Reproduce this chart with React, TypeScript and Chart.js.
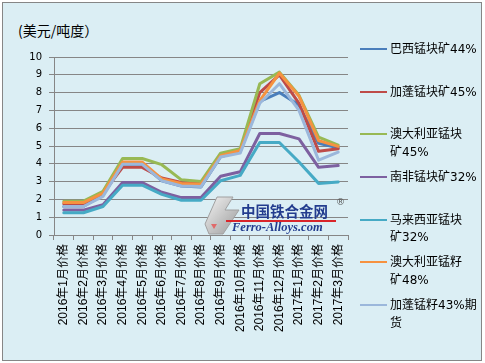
import React, { useEffect, useRef } from "react";
import { Chart, registerables } from "chart.js";

Chart.register(...registerables);

// ---------- data ----------
const categories = [
  "2016年1月价格", "2016年2月价格", "2016年3月价格", "2016年4月价格", "2016年5月价格",
  "2016年6月价格", "2016年7月价格", "2016年8月价格", "2016年9月价格", "2016年10月价格",
  "2016年11月价格", "2016年12月价格", "2017年1月价格", "2017年2月价格", "2017年3月价格",
];

const seriesNames = [
  "巴西锰块矿44%",
  "加蓬锰块矿45%",
  "澳大利亚锰块矿45%",
  "南非锰块矿32%",
  "马来西亚锰块矿32%",
  "澳大利亚锰籽矿48%",
  "加蓬锰籽43%期货",
];

const legendLines = [
  ["巴西锰块矿44%"],
  ["加蓬锰块矿45%"],
  ["澳大利亚锰块", "矿45%"],
  ["南非锰块矿32%"],
  ["马来西亚锰块", "矿32%"],
  ["澳大利亚锰籽", "矿48%"],
  ["加蓬锰籽43%期", "货"],
];

const brazil44 = [1.6, 1.6, 2.25, 3.95, 3.95, 3.05, 2.75, 2.7, 4.4, 4.7, 7.5, 8.0, 7.3, 5.15, 4.9];
const gabon45 = [1.75, 1.75, 2.35, 3.8, 3.8, 3.2, 2.95, 2.9, 4.45, 4.75, 8.0, 9.0, 7.4, 4.7, 4.85];
const australia45 = [1.9, 1.9, 2.45, 4.3, 4.3, 3.95, 3.1, 3.0, 4.6, 4.85, 8.5, 9.15, 7.85, 5.5, 5.05];
const southAfrica32 = [1.4, 1.4, 1.7, 2.95, 2.95, 2.4, 2.1, 2.1, 3.3, 3.55, 5.7, 5.7, 5.4, 3.8, 3.9];
const malaysia32 = [1.25, 1.25, 1.6, 2.8, 2.8, 2.28, 1.95, 1.95, 3.05, 3.35, 5.2, 5.2, 4.1, 2.9, 2.98];
const australiaFines48 = [1.82, 1.82, 2.35, 4.1, 4.1, 3.15, 2.9, 2.85, 4.45, 4.75, 7.55, 9.1, 7.8, 5.3, 4.98];
const gabonFines43 = [1.6, 1.6, 2.17, 3.97, 3.97, 3.05, 2.75, 2.72, 4.38, 4.6, 7.4, 8.5, 7.0, 4.2, 4.66];

const seriesValues = [brazil44, gabon45, australia45, southAfrica32, malaysia32, australiaFines48, gabonFines43];

const yMin = 0;
const yMax = 10;
const yStep = 1;

const unitTitle = "(美元/吨度）";
const watermarkCn = "中国铁合金网";
const watermarkEn = "Ferro-Alloys.com";

// ---------- styles ----------
const colors = ["#4A7EBB", "#BE4B48", "#98B954", "#7D60A0", "#46AAC5", "#F69240", "#9BB7DB"];
const gridColor = "#868686";
const bgColor = "#DBEEF4";
const cjk = '"Noto Sans CJK SC", sans-serif';

export default function App() {
  const ref = useRef<HTMLCanvasElement>(null);

  useEffect(() => {
    document.body.style.margin = "0";
    const canvas = ref.current;
    if (!canvas) return;
    const chart = new Chart(canvas, {
      type: "line",
      data: {
        labels: categories,
        datasets: seriesValues.map((d, i) => ({
          label: seriesNames[i],
          data: d,
          borderColor: colors[i],
          backgroundColor: colors[i],
          borderWidth: 3,
          pointRadius: 0,
          pointHoverRadius: 0,
          tension: 0,
          fill: false,
          borderJoinStyle: "round" as const,
          borderCapStyle: "round" as const,
          order: seriesValues.length - i,
        })),
      },
      options: {
        responsive: false,
        animation: false,
        devicePixelRatio: 1,
        layout: { padding: { left: 0, top: 57, right: 137, bottom: 0 } },
        plugins: {
          legend: { display: false },
          tooltip: { enabled: false },
          title: { display: false },
        },
        scales: {
          x: {
            type: "category",
            offset: true,
            grid: {
              offset: true,
              drawOnChartArea: false,
              drawTicks: true,
              tickLength: 5,
              color: gridColor,
            },
            border: { color: gridColor },
            ticks: {
              autoSkip: false,
              maxRotation: 90,
              minRotation: 90,
              padding: 4,
              color: "#000",
              font: { family: '"Liberation Sans", "Noto Sans CJK SC", sans-serif', size: 12 },
            },
            afterFit: (s: any) => {
              s.height = 128;
            },
          },
          y: {
            min: yMin,
            max: yMax,
            ticks: {
              stepSize: yStep,
              padding: 7,
              color: "#000",
              font: { family: '"DejaVu Sans", sans-serif', size: 10 },
            },
            grid: { color: gridColor, tickLength: 5 },
            border: { color: gridColor },
            afterFit: (s: any) => {
              s.width = 54;
            },
          },
        },
      },
    });
    return () => chart.destroy();
  }, []);

  return (
    <div style={{ position: "fixed", left: 0, top: 0, width: 485, height: 363, background: "#fff", overflow: "hidden" }}>
      <div
        style={{
          position: "absolute",
          left: 2,
          top: 2,
          width: 480,
          height: 359,
          boxSizing: "border-box",
          border: `1px solid ${gridColor}`,
          background: bgColor,
        }}
      />
      <div
        style={{
          position: "absolute",
          left: 18,
          top: 20,
          fontFamily: cjk,
          fontSize: 14,
          lineHeight: "20px",
          color: "#000",
          whiteSpace: "nowrap",
        }}
      >
        {unitTitle}
      </div>
      <canvas ref={ref} width={485} height={363} style={{ position: "absolute", left: 0, top: 0, width: 485, height: 363 }} />
      {/* watermark */}
      <svg style={{ position: "absolute", left: 203, top: 194 }} width={40} height={42}>
        <defs>
          <linearGradient id="wmg" x1="0" y1="0" x2="1" y2="1">
            <stop offset="0" stopColor="#f4f4f4" />
            <stop offset="1" stopColor="#9a9a9a" />
          </linearGradient>
        </defs>
        <polygon points="14,3 30,3 22,16 36,16 20,40 6,40 2,30" fill="url(#wmg)" stroke="#a0a0a0" strokeWidth="1" />
        <polygon points="8,30 14,30 11,35" fill="#e06a6a" />
      </svg>
      <div
        style={{
          position: "absolute",
          left: 241,
          top: 202,
          fontFamily: cjk,
          fontWeight: "bold",
          fontSize: 14.5,
          lineHeight: "18px",
          color: "#233C8E",
          whiteSpace: "nowrap",
        }}
      >
        {watermarkCn}
      </div>
      <div style={{ position: "absolute", left: 336, top: 197, fontSize: 9, color: "#555", fontFamily: '"DejaVu Sans", sans-serif' }}>®</div>
      <div style={{ position: "absolute", left: 226, top: 220, width: 110, height: 2, background: "#D9252A" }} />
      <div
        style={{
          position: "absolute",
          left: 232,
          top: 220,
          fontFamily: '"Liberation Serif", serif',
          fontWeight: "bold",
          fontStyle: "italic",
          fontSize: 12.5,
          lineHeight: "14px",
          color: "#233C8E",
          whiteSpace: "nowrap",
        }}
      >
        {watermarkEn}
      </div>
      {/* legend */}
      {legendLines.map((lines, i) => {
        const cy = 49 + i * 42.67;
        return (
          <div key={i}>
            <div
              style={{
                position: "absolute",
                left: 360,
                top: Math.round(cy - 1),
                width: 27,
                height: 2,
                background: colors[i],
              }}
            />
            {lines.map((t, j) => (
              <div
                key={j}
                style={{
                  position: "absolute",
                  left: 390,
                  top: cy - 9 + j * 17.7,
                  height: 18,
                  lineHeight: "18px",
                  fontFamily: '"DejaVu Sans", "Noto Sans CJK SC", sans-serif',
                  fontSize: 12,
                  color: "#000",
                  whiteSpace: "nowrap",
                }}
              >
                {t}
              </div>
            ))}
          </div>
        );
      })}
    </div>
  );
}
